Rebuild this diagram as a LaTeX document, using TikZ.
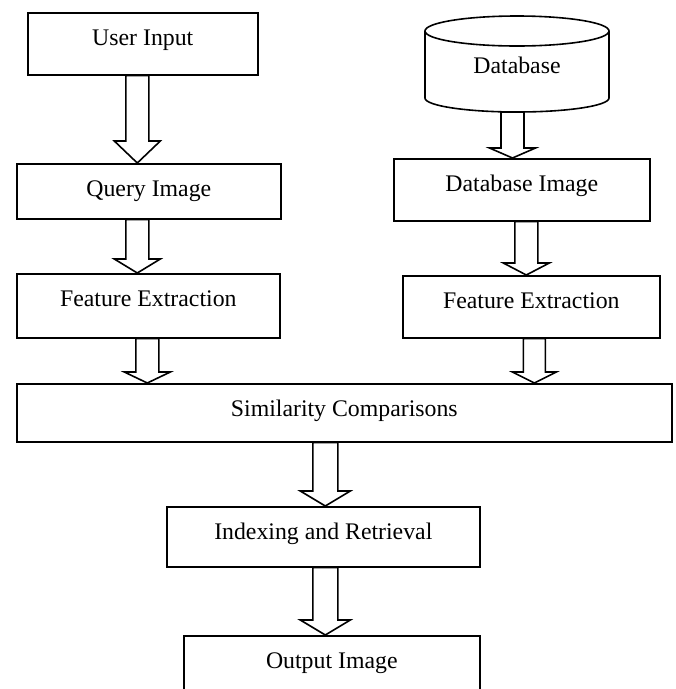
\documentclass[tikz,border=0pt]{standalone}
\usepackage{fontspec}
\setmainfont{Liberation Serif}
\usetikzlibrary{calc}

\begin{document}
\begin{tikzpicture}[x=1pt,y=-1pt,line width=1.6pt,
  font=\fontsize{23.8}{28}\selectfont,
  blk/.style={draw,anchor=north west,inner sep=0pt},
  lbl/.style={anchor=base,inner sep=0pt},
  barrow/.style 2 args={to path={let \p1=(\tikztostart),\p2=(\tikztotarget) in
    (\x1-#1,\y1) -- (\x1-#1,\y2+#2) -- (\x1-2*#1,\y2+#2) -- (\x1,\y2)
    -- (\x1+2*#1,\y2+#2) -- (\x1+#1,\y2+#2) -- (\x1+#1,\y1) -- cycle}}]
\useasboundingbox (0,0) rectangle (676,689);
% left column
\node[blk,minimum width=230pt,minimum height=62pt] (inp) at (27,12) {};
\node[blk,minimum width=264pt,minimum height=55pt] (qry) at (16,163) {};
\node[blk,minimum width=263pt,minimum height=64pt] (fq) at (16,273) {};
\node[lbl] (inp-t) at ([yshift=-33pt]inp.north) {User Input};
\node[lbl] (qry-t) at ([yshift=-33pt]qry.north) {Query Image};
\node[lbl] (fq-t) at ([yshift=-33pt]fq.north) {Feature Extraction};
% right column
\draw (425,31) -- (425,98) arc[start angle=180,end angle=360,x radius=92pt,y radius=14pt] -- (609,31);
\draw (517,31) ellipse[x radius=92pt,y radius=15pt];
\node[lbl] (db) at (517,73) {Database};
\coordinate (db-b) at (517,112);
\node[blk,minimum width=256pt,minimum height=62pt] (dbi) at (393,158) {};
\node[blk,minimum width=257pt,minimum height=62pt] (fd) at (402,275) {};
\node[lbl] (dbi-t) at ([yshift=-33pt]dbi.north) {Database Image};
\node[lbl] (fd-t) at ([yshift=-33pt]fd.north) {Feature Extraction};
% common part
\node[blk,minimum width=655pt,minimum height=58pt] (sim) at (16,383) {};
\node[blk,minimum width=313pt,minimum height=60pt] (idx) at (166,506) {};
\node[blk,minimum width=296pt,minimum height=70pt] (out) at (183,635) {};
\node[lbl] (sim-t) at ([yshift=-33pt]sim.north) {Similarity Comparisons};
\node[lbl] (idx-t) at ([yshift=-33pt]idx.north) {Indexing and Retrieval};
\node[lbl] (out-t) at ([yshift=-33pt]out.north) {Output Image};
% block arrows
\draw[barrow={11.5pt}{22pt}] ([xshift=-5.5pt]inp.south) to (qry.north);
\draw[barrow={11.5pt}{14pt}] ([xshift=-11.5pt]qry.south) to (fq.north);
\draw[barrow={11.5pt}{11pt}] ([xshift=-1pt]fq.south) to (sim.north);
\draw[barrow={11.5pt}{10pt}] ([xshift=-4.5pt]db-b) to (dbi.north);
\draw[barrow={11.5pt}{12pt}] ([xshift=4.5pt]dbi.south) to (fd.north);
\draw[barrow={11pt}{11pt}] ([xshift=3pt]fd.south) to (sim.north);
\draw[barrow={12.5pt}{15pt}] ([xshift=-19pt]sim.south) to (idx.north);
\draw[barrow={12.5pt}{15pt}] ([xshift=2pt]idx.south) to (out.north);
\end{tikzpicture}
\end{document}
